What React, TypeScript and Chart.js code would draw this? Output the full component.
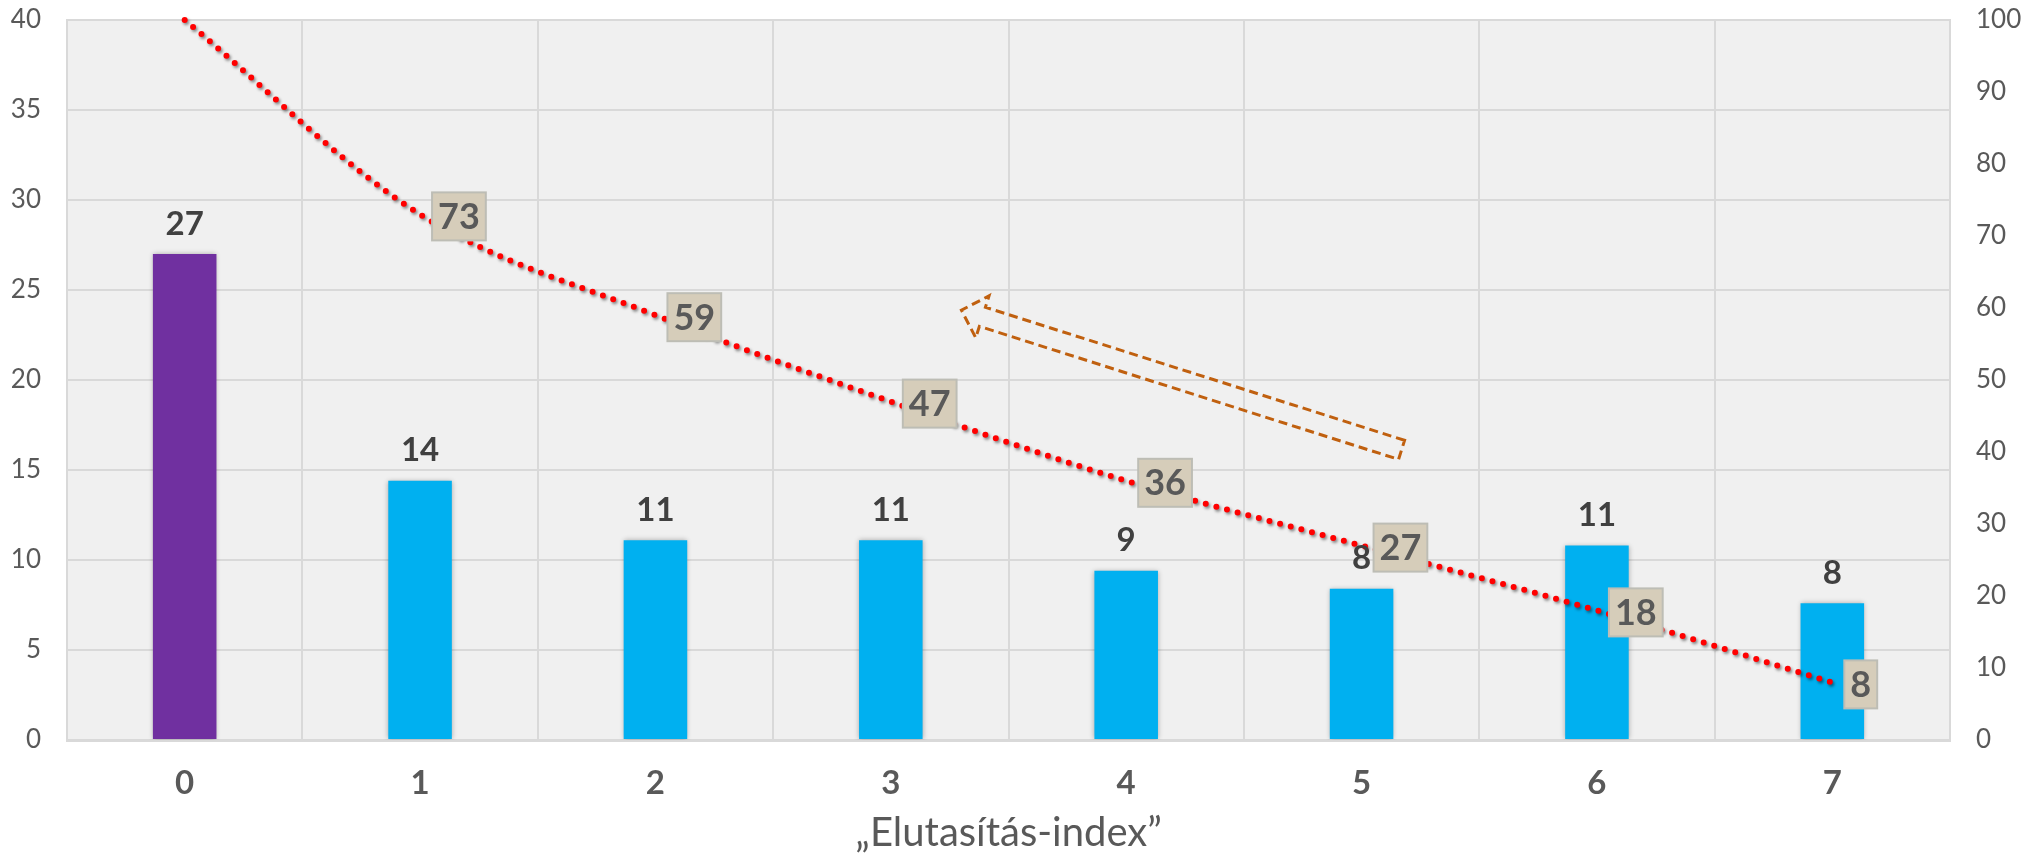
import React, { useEffect, useRef } from 'react';
import { Chart, registerables } from 'chart.js';

Chart.register(...registerables);

const categories = ['0', '1', '2', '3', '4', '5', '6', '7'];
const barValues = [27, 14.4, 11.1, 11.1, 9.4, 8.4, 10.8, 7.6];
const barLabels = ['27', '14', '11', '11', '9', '8', '11', '8'];
const barColors = ['#7030A0', '#00B0F0', '#00B0F0', '#00B0F0', '#00B0F0', '#00B0F0', '#00B0F0', '#00B0F0'];
const lineValues = [100, 73, 59, 47, 36, 27, 18, 8];
const lineLabels = ['', '73', '59', '47', '36', '27', '18', '8'];
const axisTitle = '„Elutasítás-index”';
const leftMax = 40;
const leftStep = 5;
const rightMax = 100;
const rightStep = 10;
// annotation arrow (category index, right-axis value)
const arrowTail = { x: 5.17, y: 40.3 };
const arrowTip = { x: 3.3, y: 59.7 };

const FONT = 'Lato, "Open Sans", sans-serif';

const bgPlugin = {
  id: 'bg',
  beforeDraw(chart: any) {
    const { ctx, chartArea: a } = chart;
    ctx.save();
    ctx.fillStyle = '#F0F0F0';
    ctx.fillRect(a.left, a.top, a.right - a.left, a.bottom - a.top);
    ctx.restore();
  },
};

const shadowPlugin = {
  id: 'shadows',
  beforeDatasetDraw(chart: any, args: any) {
    const ctx = chart.ctx;
    ctx.save();
    if (args.meta.type === 'line') {
      ctx.shadowColor = 'rgba(0,0,0,0.45)';
      ctx.shadowBlur = 3;
      ctx.shadowOffsetX = 1.5;
      ctx.shadowOffsetY = 2;
    } else {
      ctx.shadowColor = 'rgba(0,0,0,0.3)';
      ctx.shadowBlur = 5;
      ctx.shadowOffsetX = 0;
      ctx.shadowOffsetY = 0;
    }
  },
  afterDatasetDraw(chart: any) {
    chart.ctx.restore();
  },
};

const labelPlugin = {
  id: 'labels',
  afterDatasetsDraw(chart: any) {
    const ctx = chart.ctx;
    const barMeta = chart.getDatasetMeta(0);
    const lineMeta = chart.getDatasetMeta(1);
    ctx.save();
    // bar labels
    ctx.font = `bold 33px ${FONT}`;
    ctx.fillStyle = '#404040';
    ctx.textAlign = 'center';
    ctx.textBaseline = 'middle';
    barMeta.data.forEach((el: any, i: number) => {
      ctx.fillText(barLabels[i], el.x, el.y - 30);
    });
    // arrow annotation
    const xs = chart.scales.x;
    const ys = chart.scales.y1;
    const tx = xs.getPixelForValue(arrowTip.x);
    const ty = ys.getPixelForValue(arrowTip.y);
    const sx = xs.getPixelForValue(arrowTail.x);
    const sy = ys.getPixelForValue(arrowTail.y);
    const dx = tx - sx;
    const dy = ty - sy;
    const len = Math.hypot(dx, dy);
    const ux = dx / len;
    const uy = dy / len;
    const px = -uy;
    const py = ux;
    const hw = 10;
    const headW = 22;
    const headL = 22;
    const bx = tx - ux * headL;
    const by = ty - uy * headL;
    ctx.beginPath();
    ctx.moveTo(sx + px * hw, sy + py * hw);
    ctx.lineTo(bx + px * hw, by + py * hw);
    ctx.lineTo(bx + px * headW, by + py * headW);
    ctx.lineTo(tx, ty);
    ctx.lineTo(bx - px * headW, by - py * headW);
    ctx.lineTo(bx - px * hw, by - py * hw);
    ctx.lineTo(sx - px * hw, sy - py * hw);
    ctx.closePath();
    ctx.setLineDash([9, 5]);
    ctx.lineWidth = 3;
    ctx.strokeStyle = '#C0600F';
    ctx.stroke();
    ctx.setLineDash([]);
    // line labels
    ctx.font = `bold 36px ${FONT}`;
    lineMeta.data.forEach((el: any, i: number) => {
      const t = lineLabels[i];
      if (!t) return;
      const w = ctx.measureText(t).width + 12;
      const h = 48;
      const x0 = el.x + 12;
      const y0 = el.y - h / 2 + 2;
      ctx.fillStyle = '#D6CDBA';
      ctx.fillRect(x0, y0, w, h);
      ctx.strokeStyle = '#BDBDB5';
      ctx.lineWidth = 2;
      ctx.strokeRect(x0, y0, w, h);
      ctx.fillStyle = '#595959';
      ctx.textAlign = 'center';
      ctx.fillText(t, x0 + w / 2, y0 + h / 2 + 1);
    });
    ctx.restore();
  },
};

function noPad(s: any) {
  s.paddingTop = 0;
  s.paddingBottom = 0;
  s.paddingLeft = 0;
  s.paddingRight = 0;
}

export default function App() {
  const ref = useRef<HTMLCanvasElement>(null);
  useEffect(() => {
    document.body.style.margin = '0';
    const chart = new Chart(ref.current as HTMLCanvasElement, {
      type: 'bar',
      data: {
        labels: categories,
        datasets: [
          {
            type: 'bar',
            data: barValues,
            backgroundColor: barColors,
            barPercentage: 0.27,
            categoryPercentage: 1,
            yAxisID: 'y',
            order: 1,
          } as any,
          {
            type: 'line',
            data: lineValues,
            borderColor: '#FF0000',
            borderWidth: 6,
            borderDash: [0, 11],
            borderCapStyle: 'round',
            pointRadius: 0,
            cubicInterpolationMode: 'monotone',
            fill: false,
            clip: false,
            yAxisID: 'y1',
            order: 0,
          } as any,
        ],
      },
      options: {
        responsive: false,
        animation: false,
        layout: { padding: { top: 20, left: 0, right: 0, bottom: 0 } },
        plugins: { legend: { display: false }, tooltip: { enabled: false } },
        scales: {
          x: {
            type: 'category',
            offset: true,
            grid: { color: '#D9D9D9', lineWidth: 2, drawTicks: false, offset: true },
            border: { color: '#D9D9D9', width: 3 },
            ticks: { font: { family: FONT, size: 33, weight: 'bold' }, color: '#595959', padding: 24 },
            title: {
              display: true,
              text: axisTitle,
              font: { family: FONT, size: 40 },
              color: '#595959',
              padding: { top: 0, bottom: 2 },
            },
            afterFit(s: any) {
              s.height = 119;
              noPad(s);
            },
          },
          y: {
            position: 'left',
            min: 0,
            max: leftMax,
            ticks: { stepSize: leftStep, font: { family: FONT, size: 26 }, color: '#595959', padding: 26 },
            grid: { color: '#D9D9D9', lineWidth: 2, drawTicks: false },
            border: { color: '#D9D9D9', width: 2 },
            afterFit(s: any) {
              s.width = 67;
              noPad(s);
            },
          },
          y1: {
            position: 'right',
            min: 0,
            max: rightMax,
            ticks: { stepSize: rightStep, font: { family: FONT, size: 26 }, color: '#595959', padding: 26 },
            grid: { display: false, drawTicks: false },
            border: { color: '#D9D9D9', width: 2 },
            afterFit(s: any) {
              s.width = 92;
              noPad(s);
            },
          },
        },
      } as any,
      plugins: [bgPlugin, shadowPlugin, labelPlugin],
    });
    return () => chart.destroy();
  }, []);
  return (
    <div style={{ width: 2042, height: 859, background: '#FFFFFF' }}>
      <canvas ref={ref} width={2042} height={859} style={{ display: 'block' }} />
    </div>
  );
}
